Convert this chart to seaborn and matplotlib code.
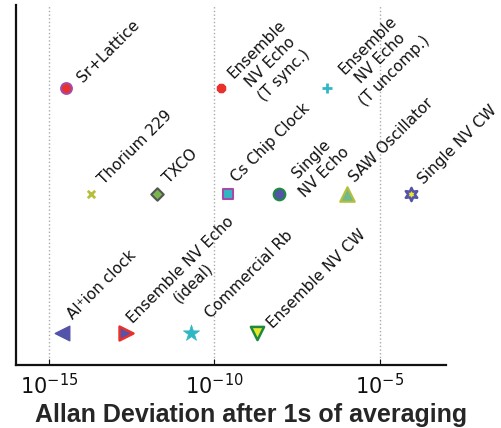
import matplotlib
matplotlib.use("Agg")
import matplotlib.pyplot as plt
import seaborn as sns
import pandas as pd
import numpy as np

# Clock / oscillator stability, Allan deviation at tau = 1 s
labels = [
    "Sr+Lattice", "Ensemble\nNV Echo\n(T sync.)", "Ensemble\nNV Echo\n(T uncomp.)",
    "Thorium 229", "TXCO", "Cs Chip Clock", "Single\nNV Echo", "SAW Oscillator", "Single NV CW",
    "Al\u207aion clock", "Ensemble NV Echo\n(ideal)", "Commercial Rb", "Ensemble NV CW",
]
allan_dev = [
    3.3e-15, 1.6e-10, 2.6e-7,
    1.9e-14, 1.9e-12, 2.5e-10, 9.3e-9, 1.0e-6, 8.8e-5,
    2.5e-15, 2.1e-13, 2.0e-11, 2.0e-9,
]
row_level = [
    0.77, 0.77, 0.77,
    0.475, 0.475, 0.475, 0.475, 0.475, 0.475,
    0.09, 0.09, 0.09, 0.09,
]

BLUE = "#5353a9"
RED = "#e8302c"
GREEN = "#1d8b3d"
CYAN = "#31b7c3"
OLIVE = "#b7bf3a"
PURPLE = "#a64aa8"
YELLOW = "#e9e62e"
LIGHTGREEN = "#78b64e"
GRAY = "#555555"
SEAGREEN = "#70b98a"

# marker, face, edge, size, edge width
styles = [
    ("o", RED, PURPLE, 60, 1.5),
    ("8", RED, RED, 40, 1.0),
    ("+", CYAN, CYAN, 45, 2.0),
    ("x", OLIVE, OLIVE, 28, 2.0),
    ("D", LIGHTGREEN, GRAY, 40, 1.5),
    ("s", CYAN, PURPLE, 45, 1.5),
    ("o", BLUE, GREEN, 70, 1.5),
    ("^", SEAGREEN, OLIVE, 110, 1.5),
    ((6, 1, 0), YELLOW, BLUE, 90, 1.8),
    ("<", BLUE, BLUE, 110, 1.0),
    (">", BLUE, RED, 100, 1.8),
    ("*", CYAN, CYAN, 150, 0.5),
    ("v", YELLOW, GREEN, 90, 1.8),
]

# label nudges in points: (along the 45 degree text, across it, + = below)
nudges = [
    (0, 4), (0, 0), (-2, 0),
    (0, 0), (0, -1), (-1, -3), (0, 0), (-1, -3), (0, 0),
    (1, -3), (-3, -3), (6, 1), (-1, 4),
]

df = pd.DataFrame({"label": labels, "adev": allan_dev, "row": row_level})

sns.set_style("white")
plt.rcParams["font.family"] = ["DejaVu Sans"]
plt.rcParams["mathtext.fontset"] = "custom"
plt.rcParams["mathtext.rm"] = "Liberation Sans"
plt.rcParams["mathtext.it"] = "Liberation Sans:italic"
plt.rcParams["mathtext.bf"] = "Liberation Sans:bold"

fig = plt.figure(figsize=(5.02, 4.28), dpi=100)
ax = fig.add_axes([0.032, 0.147, 0.856, 0.841])

r2 = np.sqrt(0.5)
for i, row in df.iterrows():
    marker, face, edge, size, lw = styles[i]
    if marker in ("+", "x"):
        sns.scatterplot(x=[row.adev], y=[row.row], marker=marker, color=face,
                        s=size, linewidth=lw, ax=ax, legend=False)
    else:
        sns.scatterplot(x=[row.adev], y=[row.row], marker=marker, color=face,
                        edgecolor=edge, s=size, linewidth=lw, ax=ax, legend=False)
    a, b = nudges[i]
    dx = 3.1 + (a + b) * r2
    dy = 12.6 + (a - b) * r2
    ax.annotate(row.label, (row.adev, row.row), xytext=(dx, dy),
                textcoords="offset points", rotation=45, rotation_mode="anchor",
                ha="left", va="top", multialignment="center", linespacing=1.3,
                fontsize=11, color="#111111")

ax.set_xscale("log")
ax.set_xlim(1e-16, 1e-3)
ax.set_ylim(0, 1)
ax.set_xticks([1e-15, 1e-10, 1e-5])
ax.minorticks_off()
ax.set_yticks([])
ax.set_ylabel("")
ax.grid(axis="x", linestyle=":", color="#aaaaaa", linewidth=1.0)
ax.grid(axis="y", visible=False)
for side in ("top", "right"):
    ax.spines[side].set_visible(False)
for side in ("left", "bottom"):
    ax.spines[side].set_color("#111111")
    ax.spines[side].set_linewidth(1.6)
ax.tick_params(axis="x", direction="in", length=4, width=0.8, labelsize=15,
               pad=6, colors="#111111", bottom=True)
ax.set_xlabel("Allan Deviation after 1s of averaging", fontsize=18,
              fontweight="bold", family="Liberation Sans", labelpad=3)
ax.xaxis.label.set_x(0.547)

fig.savefig("out.png", dpi=100)
